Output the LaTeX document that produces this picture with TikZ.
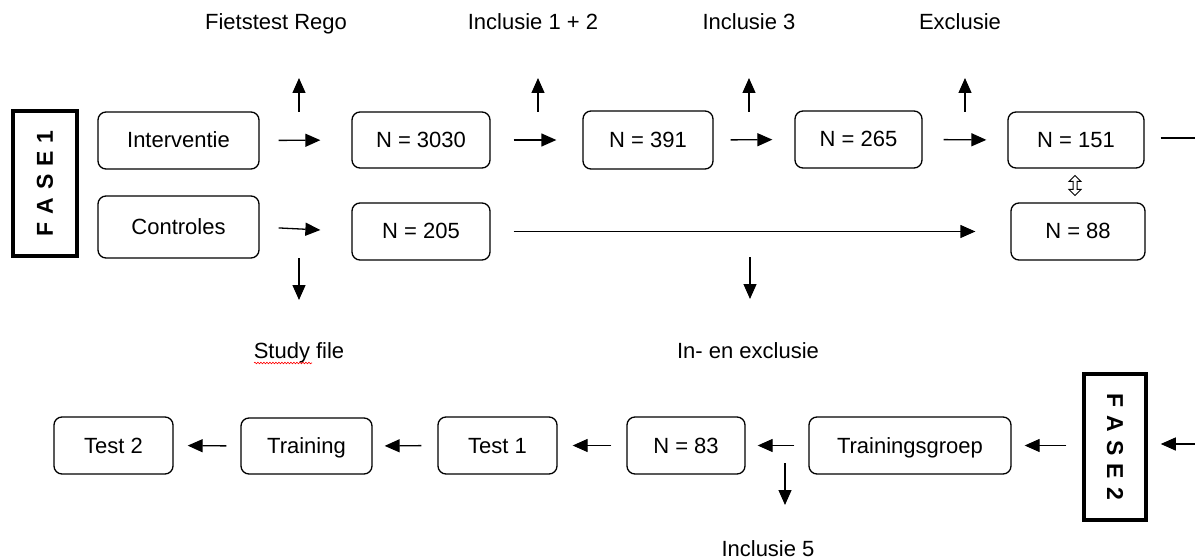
\documentclass[tikz,border=0pt]{standalone}
\usepackage{fontspec}
\setmainfont{Liberation Sans}
\usetikzlibrary{arrows.meta,decorations.pathmorphing}
\begin{document}
\begin{tikzpicture}[x=1pt,y=-1pt,
  every node/.style={font=\fontsize{22}{26}\selectfont},
  box/.style={draw, rounded corners=8pt, line width=1.3pt, inner sep=0pt, text height=20pt, text depth=5pt},
  fase/.style={draw, line width=3.5pt, inner sep=0pt},
  fasetext/.style={font=\fontsize{23}{26}\selectfont\bfseries, inner sep=0pt},
  arr/.style={line width=1.3pt, -{Triangle[length=15pt,width=13pt]}},
  lbl/.style={inner sep=0pt, anchor=base}
]
\useasboundingbox (0,0) rectangle (1195,559);
\fill[white] (0,0) rectangle (1195,559);

% row 1
\node[box, minimum width=161pt, minimum height=57pt] (int) at (178.5,140.5) {Interventie};
\node[box, minimum width=138pt, minimum height=56pt] (n3030) at (421,140) {N = 3030};
\node[box, minimum width=130pt, minimum height=58pt] (n391) at (648,140) {N = 391};
\node[box, minimum width=127pt, minimum height=57pt] (n265) at (858.5,139.5) {N = 265};
\node[box, minimum width=136pt, minimum height=56pt] (n151) at (1076,140) {N = 151};
% row 2
\node[box, minimum width=161pt, minimum height=62pt] (con) at (178.5,227) {Controles};
\node[box, minimum width=138pt, minimum height=57pt] (n205) at (421,231.5) {N = 205};
\node[box, minimum width=134pt, minimum height=57pt] (n88) at (1078,231.5) {N = 88};
% fase boxes
\node[fase, minimum width=64pt, minimum height=145pt] (f1) at (45,183.5) {};
\node[fasetext, rotate=90] (f1t) at (f1.center) {F\hspace{8pt}A\hspace{8pt}S\hspace{8pt}E\hspace{8pt}1};
\node[fase, minimum width=62pt, minimum height=146pt] (f2) at (1115,447) {};
\node[fasetext, rotate=-90] (f2t) at (f2.center) {F\hspace{8pt}A\hspace{8pt}S\hspace{8pt}E\hspace{8pt}2};
% row 3
\node[box, minimum width=119pt, minimum height=57pt] (t2) at (113.5,445.5) {Test 2};
\node[box, minimum width=131pt, minimum height=56pt] (tr) at (306.5,446) {Training};
\node[box, minimum width=119pt, minimum height=57pt] (t1) at (497.5,445.5) {Test 1};
\node[box, minimum width=118pt, minimum height=57pt] (n83) at (686,445.5) {N = 83};
\node[box, minimum width=202pt, minimum height=57pt] (tg) at (910,445.5) {Trainingsgroep};

% labels
\node[lbl] (l1) at (276,30) {Fietstest Rego};
\node[lbl] (l2) at (533,30) {Inclusie 1 + 2};
\node[lbl] (l3) at (749,30) {Inclusie 3};
\node[lbl] (l4) at (960,30) {Exclusie};
\node[lbl] (l5) at (299,358) {Study file};
\node[lbl] (l6) at (748,358) {In- en exclusie};
\node[lbl] (l7) at (768,556) {Inclusie 5};
\draw[red, line width=0.6pt, decorate, decoration={snake, segment length=3pt, amplitude=0.8pt}] (254,363) -- (312,363);

% row 1 arrows
\draw[arr, shorten <=19pt, shorten >=31pt] (int.east) -- (n3030.west);
\draw[arr, shorten <=23pt, shorten >=26pt] (n3030.east) -- (n391.west);
\draw[arr, shorten <=17pt, shorten >=22pt] (n391.east) -- (n265.west);
\draw[arr, shorten <=21pt, shorten >=21pt] (n265.east) -- (n151.west);
\coordinate (r1) at (1195,138);
\draw[line width=1.3pt, shorten <=16pt] (n151.east |- r1) -- (r1);
% up arrows
\coordinate (u1a) at (299,112); \coordinate (u1b) at (299,78);
\coordinate (u2a) at (538,112); \coordinate (u2b) at (538,78);
\coordinate (u3a) at (749,112); \coordinate (u3b) at (749,78);
\coordinate (u4a) at (965,112); \coordinate (u4b) at (965,78);
\draw[arr] (u1a) -- (u1b);
\draw[arr] (u2a) -- (u2b);
\draw[arr] (u3a) -- (u3b);
\draw[arr] (u4a) -- (u4b);
% row 2 arrows
\draw[arr, shorten <=19pt, shorten >=31pt] (con.east) -- (n205.west);
\draw[arr, shorten <=23pt, shorten >=35pt] (n205.east) -- (n88.west);
\coordinate (d1a) at (299,258); \coordinate (d1b) at (299,300);
\coordinate (d2a) at (750,257); \coordinate (d2b) at (750,299);
\draw[arr] (d1a) -- (d1b);
\draw[arr] (d2a) -- (d2b);
% hollow double arrow between N = 151 and N = 88
\path (n151.south) -- coordinate[pos=0.5] (dm) (n88.north);
\draw[line width=1pt, line join=miter, fill=white] ([shift={(-2,-10)}]dm) -- ++(6,6) -- ++(-4,0) -- ++(0,8) -- ++(4,0) -- ++(-6,6) -- ++(-6,-6) -- ++(4,0) -- ++(0,-8) -- ++(-4,0) -- cycle;

% row 3 arrows
\coordinate (r3) at (1195,444);
\draw[arr, shorten >=13pt] (r3) -- (f2.east |- r3);
\draw[arr, shorten <=16pt, shorten >=13pt] (f2.west |- tg.east) -- (tg.east);
\draw[arr, shorten <=14pt, shorten >=12pt] (tg.west) -- (n83.east);
\draw[arr, shorten <=15pt, shorten >=15pt] (n83.west) -- (t1.east);
\draw[arr, shorten <=16pt, shorten >=12pt] (t1.west) -- (tr.east);
\draw[arr, shorten <=14pt, shorten >=14pt] (tr.west) -- (t2.east);
\coordinate (d3a) at (785,463); \coordinate (d3b) at (785,505);
\draw[arr] (d3a) -- (d3b);
\end{tikzpicture}
\end{document}
